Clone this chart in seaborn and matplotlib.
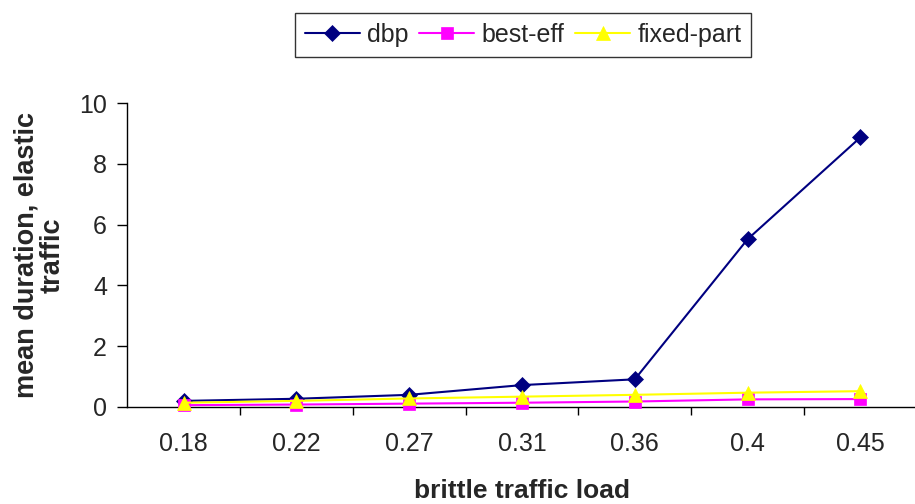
import matplotlib
matplotlib.use("Agg")
import matplotlib.pyplot as plt
import seaborn as sns
import pandas as pd
import numpy as np

loads = ["0.18", "0.22", "0.27", "0.31", "0.36", "0.4", "0.45"]
dbp = [0.20, 0.27, 0.40, 0.72, 0.91, 5.52, 8.87]
best_eff = [0.06, 0.08, 0.11, 0.14, 0.18, 0.25, 0.26]
fixed_part = [0.14, 0.20, 0.28, 0.34, 0.40, 0.47, 0.52]

series = {"dbp": dbp, "best-eff": best_eff, "fixed-part": fixed_part}
rows = []
for name, vals in series.items():
    for i, v in enumerate(vals):
        rows.append({"pos": i, "value": v, "series": name})
df = pd.DataFrame(rows)

sns.set_theme(style="white")
plt.rcParams["font.family"] = ["Liberation Sans", "DejaVu Sans"]

fig = plt.figure(figsize=(9.15, 5.04), dpi=100)
ax = fig.add_axes([0.139, 0.1925, 0.863, 0.6031])

palette = {"dbp": "#000080", "best-eff": "#FF00FF", "fixed-part": "#FFFF00"}
markers = {"dbp": "D", "best-eff": "s", "fixed-part": "^"}
sizes = {"dbp": 8, "best-eff": 8, "fixed-part": 10}

# series drawn in order, so later ones sit on top
for z, name in enumerate(["dbp", "best-eff", "fixed-part"]):
    sub = df[df["series"] == name]
    sns.lineplot(data=sub, x="pos", y="value", ax=ax, color=palette[name],
                 marker=markers[name], markersize=sizes[name],
                 markeredgecolor=palette[name], markeredgewidth=0.5,
                 linewidth=1.5, label=name, clip_on=False, zorder=3 + z)

ax.set_xlim(-0.5, 6.5)
ax.set_ylim(0, 10)
ax.set_yticks([0, 2, 4, 6, 8, 10])
ax.set_xticks(np.arange(0.5, 7, 1))
ax.set_xticklabels([])
ax.set_xticks(np.arange(7), minor=True)
ax.set_xticklabels(loads, minor=True)
ax.tick_params(axis="x", which="major", direction="out", length=6, width=1,
               color="#000000", bottom=True)
ax.tick_params(axis="x", which="minor", length=0, pad=18, labelsize=18)
ax.tick_params(axis="y", direction="out", length=7, width=1, color="#000000",
               left=True, labelsize=18, pad=7.5)

for side in ["top", "right"]:
    ax.spines[side].set_visible(False)
for side in ["left", "bottom"]:
    ax.spines[side].set_color("#000000")
    ax.spines[side].set_linewidth(1)

ax.set_xlabel("")
ax.set_ylabel("")
fig.text(0.5705, 1 - 498 / 504, "brittle traffic load", fontsize=19,
         fontweight="bold", ha="center", va="baseline")
fig.text(40 / 915, 1 - 255 / 504, "mean duration, elastic\ntraffic",
         fontsize=19.5, fontweight="bold", rotation=90, ha="center",
         va="center", multialignment="center", linespacing=1.0)

handles, labels = ax.get_legend_handles_labels()
order = ["dbp", "best-eff", "fixed-part"]
hmap = dict(zip(labels, handles))
ax.get_legend().remove()
leg = fig.legend([hmap[k] for k in order], order, loc="center",
                 bbox_to_anchor=(523 / 915, 1 - 35 / 504), ncol=3, fontsize=18,
                 frameon=True, fancybox=False, edgecolor="#000000",
                 handlelength=2.2, columnspacing=0.45, handletextpad=0.28,
                 borderpad=0.4, borderaxespad=0)
leg.get_frame().set_linewidth(1)

fig.savefig("out.png", dpi=100)
